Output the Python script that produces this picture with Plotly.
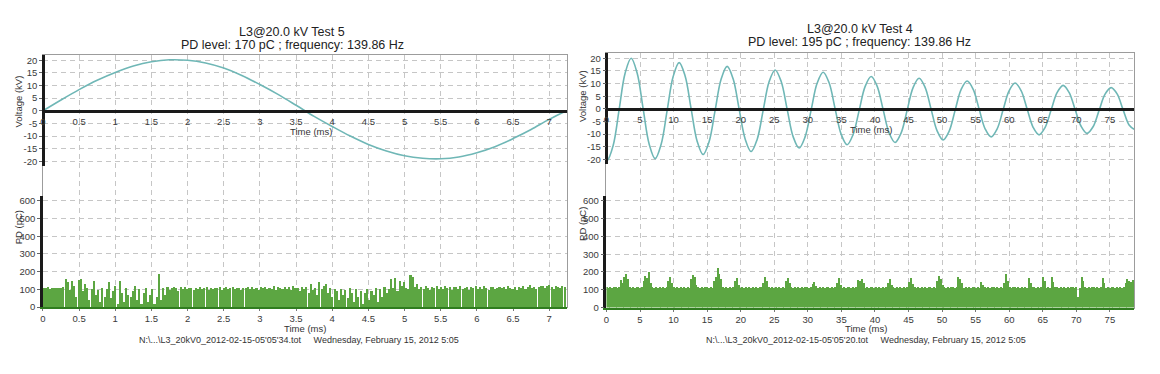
import plotly.graph_objects as go

# the page body adds an 8 px margin, so the figure is drawn 8 px smaller and
# every pixel position below is given in window coordinates
W, H = 1160, 374
OFF = 8
FW, FH = W - OFF, H - OFF

# ---------------- data ----------------
left_title = "L3@20.0 kV Test 5"
left_subtitle = "PD level: 170 pC ; frequency: 139.86 Hz"
left_footer = "N:\\...\\L3_20kV0_2012-02-15-05'05'34.tot\u00a0\u00a0\u00a0\u00a0\u00a0Wednesday, February 15, 2012 5:05"
right_title = "L3@20.0 kV Test 4"
right_subtitle = "PD level: 195 pC ; frequency: 139.86 Hz"
right_footer = "N:\\...\\L3_20kV0_2012-02-15-05'05'20.tot\u00a0\u00a0\u00a0\u00a0\u00a0Wednesday, February 15, 2012 5:05"

volt_title = "Voltage (kV)"
pd_title = "PD (pC)"
time_title = "Time (ms)"

# left voltage trace: time (ms), voltage (kV)
left_v_time = [0, 0.25, 0.5, 0.75, 1.0, 1.25, 1.5, 1.75, 2.0, 2.25, 2.5, 2.75, 3.0, 3.25,
               3.5, 3.75, 4.0, 4.25, 4.5, 4.75, 5.0, 5.25, 5.5, 5.75, 6.0, 6.25, 6.5,
               6.75, 7.0, 7.24]
left_v_kv = [0.0, 4.3, 8.4, 12.1, 15.2, 17.7, 19.4, 20.2, 20.0, 18.9, 16.9, 14.0, 10.4, 6.5,
             2.2, -2.2, -6.2, -10.0, -13.3, -15.9, -17.8, -18.8, -19.0, -18.3, -16.6, -14.2,
             -11.0, -7.4, -3.4, 0.0]

# right voltage trace: time (ms), voltage (kV)
right_v_time = [0.0,
                0.1, 0.99, 1.89, 2.78,
                3.68, 4.57, 5.46, 6.36,
                7.25, 8.14, 9.04, 9.93,
                10.83, 11.72, 12.61, 13.51,
                14.4, 15.29, 16.19, 17.08,
                17.98, 18.87, 19.76, 20.66,
                21.55, 22.44, 23.34, 24.23,
                25.13, 26.02, 26.91, 27.81,
                28.7, 29.59, 30.49, 31.38,
                32.28, 33.17, 34.06, 34.96,
                35.85, 36.74, 37.64, 38.53,
                39.43, 40.32, 41.21, 42.11,
                43.0, 43.89, 44.79, 45.68,
                46.58, 47.47, 48.36, 49.26,
                50.15, 51.04, 51.94, 52.83,
                53.73, 54.62, 55.51, 56.41,
                57.3, 58.19, 59.09, 59.98,
                60.88, 61.77, 62.66, 63.56,
                64.45, 65.34, 66.24, 67.13,
                68.03, 68.92, 69.81, 70.71,
                71.6, 72.49, 73.39, 74.28,
                75.18, 76.07, 76.96, 77.86,
                78.6]
right_v_kv = [-20.4,
              -20.5, -14.6, -0.3, 14.1,
              20.0, 14.2, 0.2, -13.9,
              -19.7, -14.1, -0.7, 12.7,
              18.3, 13.0, 0.1, -12.8,
              -18.1, -13.0, -0.6, 11.7,
              16.8, 11.9, 0.0, -11.9,
              -16.9, -12.2, -0.7, 10.7,
              15.4, 10.9, 0.0, -11.0,
              -15.5, -11.1, -0.5, 10.1,
              14.5, 10.3, 0.1, -10.0,
              -14.2, -10.2, -0.7, 8.8,
              12.8, 9.0, -0.2, -9.5,
              -13.3, -9.6, -0.6, 8.4,
              12.1, 8.5, -0.1, -8.7,
              -12.3, -8.9, -0.6, 7.6,
              11.0, 7.8, 0.0, -7.9,
              -11.1, -8.0, -0.4, 7.1,
              10.2, 7.2, 0.0, -7.3,
              -10.3, -7.4, -0.5, 6.4,
              9.3, 6.5, -0.2, -6.9,
              -9.7, -7.1, -0.6, 5.8,
              8.4, 5.9, -0.3, -6.4,
              -8.1]

# PD pulses, one value per acquisition slot
left_pd_dt = 0.03   # ms per slot
left_pd_pc = [
    110, 108, 112, 105, 110, 109, 111, 107, 110, 112,
    160, 140, 95, 150, 120, 60, 155, 160, 90, 130,
    110, 40, 100, 150, 70, 95, 30, 110, 60, 100,
    140, 50, 90, 120, 20, 150, 80, 30, 110, 70,
    60, 90, 120, 40, 100, 20, 80, 110, 30, 70,
    100, 15, 60, 190, 40, 110, 70, 112, 95, 108,
    112, 110, 90, 115, 105, 112, 100, 110, 108, 95,
    110, 105, 112, 100, 108, 113, 95, 110, 104, 111,
    108, 112, 98, 110, 115, 102, 109, 112, 100, 108,
    111, 95, 110, 108, 113, 100, 112, 105, 110, 98,
    112, 108, 115, 100, 110, 105, 118, 98, 112, 110,
    105, 115, 100, 112, 95, 118, 108, 110, 90, 115,
    100, 112, 80, 130, 95, 110, 70, 140, 100, 120,
    130, 80, 110, 60, 100, 90, 40, 105, 70, 95,
    50, 110, 80, 30, 100, 60, 90, 20, 80, 105,
    40, 90, 70, 110, 30, 100, 60, 112, 80, 100,
    160, 110, 165, 90, 150, 120, 140, 110, 100, 180,
    170, 115, 130, 105, 112, 100, 118, 110, 95, 115,
    110, 118, 105, 112, 100, 120, 108, 112, 98, 115,
    112, 105, 118, 100, 110, 115, 95, 112, 108, 118,
    105, 112, 100, 118, 110, 95, 112, 115, 100, 110,
    115, 108, 112, 100, 118, 110, 105, 112, 98, 115,
    110, 120, 105, 112, 125, 108, 115, 100, 112, 118,
    122, 110, 118, 125, 112, 105, 120, 115, 110, 118,
    112]

right_pd_dt = 0.262  # ms per slot
right_pd_pc = [
    115, 112, 116, 110, 114, 117, 112, 115, 155, 140,
    175, 190, 160, 118, 112, 116, 110, 114, 117, 112,
    115, 150, 180, 165, 200, 140, 118, 112, 116, 113,
    117, 110, 115, 112, 118, 150, 170, 140, 116, 112,
    114, 110, 117, 113, 115, 111, 118, 112, 160, 185,
    170, 130, 115, 112, 117, 110, 114, 116, 112, 118,
    113, 150, 170, 225, 190, 160, 118, 112, 115, 110,
    116, 113, 117, 150, 165, 130, 112, 114, 110, 116,
    112, 118, 113, 115, 110, 117, 112, 114, 116, 140,
    175, 150, 118, 112, 115, 110, 116, 113, 117, 112,
    114, 110, 150, 165, 140, 116, 112, 118, 113, 115,
    110, 117, 112, 114, 116, 112, 118, 135, 145, 120,
    113, 115, 110, 117, 112, 114, 116, 112, 118, 113,
    115, 140, 165, 130, 110, 117, 112, 114, 116, 112,
    118, 113, 115, 155, 150, 160, 140, 110, 117, 112,
    114, 116, 112, 118, 113, 115, 110, 117, 112, 114,
    140, 160, 130, 116, 112, 118, 113, 115, 110, 117,
    112, 114, 145, 165, 135, 116, 112, 118, 113, 115,
    110, 117, 112, 114, 116, 112, 118, 113, 150, 180,
    160, 125, 115, 110, 117, 112, 114, 116, 112, 118,
    170, 160, 140, 113, 115, 110, 117, 112, 114, 116,
    112, 118, 113, 145, 130, 115, 110, 117, 112, 114,
    116, 112, 118, 113, 115, 110, 140, 190, 150, 117,
    112, 114, 116, 112, 118, 113, 115, 110, 117, 112,
    165, 140, 114, 116, 112, 118, 113, 115, 175, 150,
    110, 117, 112, 170, 145, 114, 116, 112, 118, 113,
    115, 110, 117, 112, 114, 116, 112, 118, 60, 113,
    175, 150, 115, 110, 117, 112, 114, 116, 112, 118,
    113, 115, 165, 140, 110, 117, 112, 114, 116, 112,
    118, 113, 115, 110, 117, 140, 160, 150, 145, 155]

left_x_ticks = [0, 0.5, 1, 1.5, 2, 2.5, 3, 3.5, 4, 4.5, 5, 5.5, 6, 6.5, 7]
right_x_ticks = [0, 5, 10, 15, 20, 25, 30, 35, 40, 45, 50, 55, 60, 65, 70, 75]
volt_ticks = [-20, -15, -10, -5, 0, 5, 10, 15, 20]
pd_ticks = [0, 100, 200, 300, 400, 500, 600]

left_x_max = 7.24
right_x_max = 78.6
volt_range = [-22, 22]
pd_range = [0, 628]

# ---------------- styling ----------------
FONT = "Liberation Sans, Arial, sans-serif"
TICK_FONT = dict(family=FONT, size=9.5, color="#3a3a3a")
GRID = "#c6c6c6"
DASH = "5px,4px"
CURVE = "#6fb7b6"
BAR = "#5ca642"
BASE_GREEN = "#2f7d1f"
FRAME = "#9c9c9c"


def px(x):
    return (x - OFF) / FW


def py(y):
    return 1 - (y - OFF) / FH


def lbl(v):
    return ("-" if v < 0 else "") + f"{abs(v):g}"


fig = go.Figure()

panels = [
    dict(xd=[px(40), px(565)], vdom=[py(168), py(55)], pdom=[py(311), py(198)],
         xmax=left_x_max, xt=left_x_ticks, vt=left_v_time, vv=left_v_kv,
         dt=left_pd_dt, pd=left_pd_pc, ids=(1, 2, 3)),
    dict(xd=[px(605), px(1134)], vdom=[py(166), py(53)], pdom=[py(311.5), py(198)],
         xmax=right_x_max, xt=right_x_ticks, vt=right_v_time, vv=right_v_kv,
         dt=right_pd_dt, pd=right_pd_pc, ids=(4, 5, 6)),
]

layout = dict(
    width=FW, height=FH, autosize=False,
    margin=dict(l=0, r=0, t=0, b=0),
    paper_bgcolor="white", plot_bgcolor="rgba(0,0,0,0)",
    showlegend=False, font=dict(family=FONT, color="#333"),
    bargap=0,
)


def ax(n, kind):
    return (kind + "axis") if n == 1 else f"{kind}axis{n}"


def ref(n, kind):
    return kind if n == 1 else f"{kind}{n}"


for p in panels:
    f, v, d = p["ids"]
    xt = p["xt"]
    xtxt = [lbl(t) for t in xt]
    # frame subplot: vertical dashed grid + border, spanning whole panel height
    fig.add_trace(go.Scatter(x=[], y=[], xaxis=ref(f, "x"), yaxis=ref(f, "y"),
                             hoverinfo="skip"))
    layout[ax(f, "x")] = dict(domain=p["xd"], range=[0, p["xmax"]], anchor=ref(f, "y"),
                              tickmode="array", tickvals=xt, showticklabels=False,
                              showgrid=True, gridcolor=GRID, griddash=DASH, gridwidth=1,
                              zeroline=False, showline=True, mirror=True,
                              linecolor=FRAME, linewidth=1.2, ticks="")
    layout[ax(f, "y")] = dict(domain=[p["pdom"][0], p["vdom"][1]], range=[0, 1],
                              anchor=ref(f, "x"), showgrid=False, showticklabels=False,
                              zeroline=False, showline=True, mirror=True,
                              linecolor=FRAME, linewidth=1.2, ticks="")

    # voltage subplot
    zero_pos = p["vdom"][0] + (p["vdom"][1] - p["vdom"][0]) * \
        (0 - volt_range[0]) / (volt_range[1] - volt_range[0])
    fig.add_trace(go.Scatter(x=p["vt"], y=p["vv"], mode="lines",
                             line=dict(color=CURVE, width=1.6, shape="spline", smoothing=1.0),
                             xaxis=ref(v, "x"), yaxis=ref(v, "y"), hoverinfo="skip"))
    layout[ax(v, "x")] = dict(domain=p["xd"], range=[0, p["xmax"]], anchor="free",
                              position=zero_pos, side="bottom",
                              tickmode="array", tickvals=xt, ticktext=xtxt,
                              tickfont=TICK_FONT, ticks="outside", ticklen=1,
                              tickcolor="rgba(0,0,0,0)",
                              showgrid=False, zeroline=False, showline=True,
                              linecolor="#1a1a1a", linewidth=2.5)
    layout[ax(v, "y")] = dict(domain=p["vdom"], range=volt_range, anchor="free",
                              position=p["xd"][0],
                              tickmode="array", tickvals=volt_ticks,
                              ticktext=[lbl(t) for t in volt_ticks],
                              tickfont=TICK_FONT, ticks="outside", ticklen=3,
                              tickcolor="#666",
                              showgrid=True, gridcolor=GRID, griddash=DASH, gridwidth=1,
                              zeroline=False, showline=True, linecolor="#1a1a1a",
                              linewidth=2.5)

    # PD subplot
    dt = p["dt"]
    bx = [(i + 0.5) * dt for i in range(len(p["pd"]))]
    fig.add_trace(go.Bar(x=bx, y=p["pd"], width=dt * 0.72,
                         marker=dict(color=BAR, line=dict(width=0)),
                         xaxis=ref(d, "x"), yaxis=ref(d, "y"), hoverinfo="skip"))
    layout[ax(d, "x")] = dict(domain=p["xd"], range=[0, p["xmax"]], anchor=ref(d, "y"),
                              tickmode="array", tickvals=xt, ticktext=xtxt,
                              tickfont=TICK_FONT, ticks="outside", ticklen=2,
                              tickcolor="#777",
                              showgrid=False, zeroline=False, showline=True,
                              linecolor=BASE_GREEN, linewidth=2)
    layout[ax(d, "y")] = dict(domain=p["pdom"], range=pd_range, anchor=ref(d, "x"),
                              tickmode="array", tickvals=pd_ticks,
                              ticktext=[lbl(t) for t in pd_ticks],
                              tickfont=TICK_FONT, ticks="outside", ticklen=3,
                              tickcolor="#666",
                              showgrid=True, gridcolor=GRID, griddash=DASH, gridwidth=1,
                              zeroline=False, showline=True, linecolor="#1a1a1a",
                              linewidth=2.5)

ann = []


def add_text(text, x, y, size, color="#222", angle=0):
    ann.append(dict(text=text, x=px(x), y=py(y), xref="paper", yref="paper",
                    showarrow=False, xanchor="center", yanchor="middle",
                    textangle=angle, font=dict(family=FONT, size=size, color=color)))


# left panel texts
add_text(left_title, 290, 31, 12.5)
add_text(left_subtitle, 290, 45, 12.5)
add_text(volt_title, 15, 102, 9.5, "#333", -90)
add_text(pd_title, 15, 230, 9.5, "#333", -90)
add_text(time_title, 309, 133, 9.5, "#333")
add_text(time_title, 303, 333, 9.5, "#333")
add_text(left_footer, 297, 345, 9, "#333")
# right panel texts
add_text(right_title, 859, 28, 12.5)
add_text(right_subtitle, 859, 42, 12.5)
add_text(volt_title, 581, 97, 9.5, "#333", -90)
add_text(pd_title, 581, 227, 9.5, "#333", -90)
add_text(time_title, 870, 131, 9.5, "#333")
add_text(time_title, 865, 333, 9.5, "#333")
add_text(right_footer, 865, 345, 9, "#333")

layout["annotations"] = ann
fig.update_layout(**layout)
fig.write_html("out.html")
